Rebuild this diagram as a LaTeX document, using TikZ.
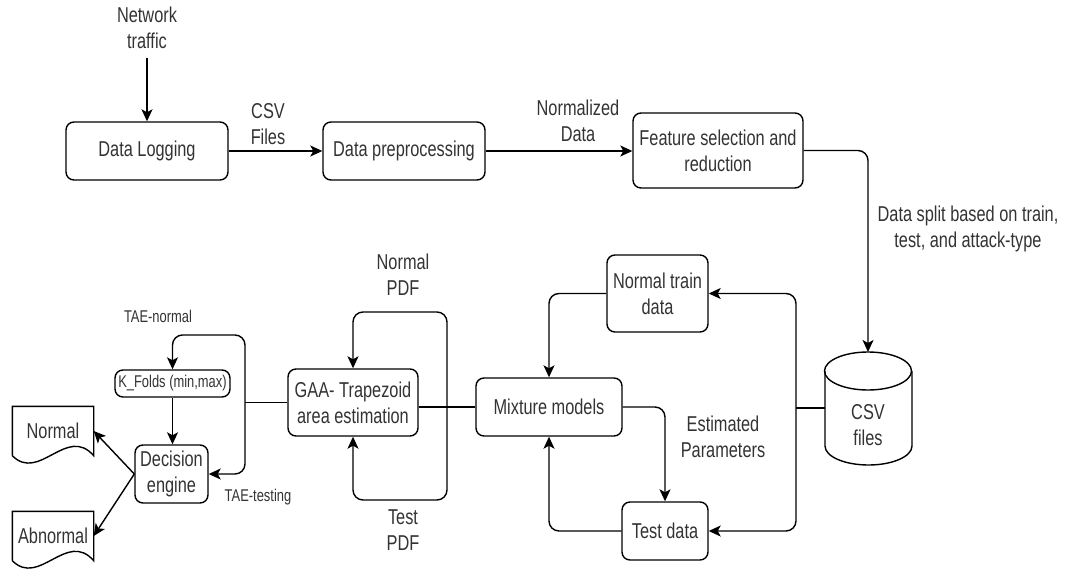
\documentclass[tikz,border=0pt]{standalone}
\usepackage{fontspec}
\setmainfont{Liberation Sans}[FakeStretch=0.76]
\usetikzlibrary{arrows.meta}

\begin{document}
\begin{tikzpicture}[x=1pt, y=-1pt, line width=1.4pt,
  box/.style={draw, rounded corners=8pt, align=center, inner sep=0pt, text=black!80, font=\fontsize{21.5}{26}\selectfont},
  lbl/.style={align=center, text=black!80, font=\fontsize{21.5}{26}\selectfont},
  small/.style={font=\fontsize{17}{20}\selectfont},
  doc/.style={lbl, minimum width=80pt, minimum height=48pt, inner sep=0pt},
  arr/.style={-{Stealth[length=12pt, width=11pt, inset=3pt]}},
  darr/.style={{Stealth[length=12pt, width=11pt, inset=3pt]}-{Stealth[length=12pt, width=11pt, inset=3pt]}}]

\useasboundingbox (0,0) rectangle (1075,575);

\node[box, minimum width=162pt, minimum height=58pt] (logging) at (147,151) {Data Logging};
\node[box, minimum width=162pt, minimum height=58pt] (prep) at (404,151) {Data preprocessing};
\node[box, minimum width=170pt, minimum height=75pt] (feat) at (718,150.5) {Feature selection and\\reduction};
\node[box, minimum width=101pt, minimum height=77pt] (ntrain) at (657.5,293.5) {Normal train\\data};
\node[box, minimum width=146pt, minimum height=58pt] (mix) at (549,407) {Mixture models};
\node[box, minimum width=86pt, minimum height=58pt] (test) at (665,531) {Test data};
\node[box, minimum width=130pt, minimum height=67pt] (gaa) at (353,402.5) {GAA- Trapezoid\\area estimation};
\node[box, small, minimum width=115pt, minimum height=27pt] (kfold) at (172.5,383.5) {K\_Folds (min,max)};
\node[box, minimum width=73pt, minimum height=58pt] (dec) at (171.5,474) {Decision\\engine};
\node[doc] (normal) at (53,431) {Normal};
\node[doc] (abnormal) at (53,536) {Abnormal};

\foreach \d in {normal, abnormal} {
 \draw (\d.south west) -- (\d.north west) -- (\d.north east) -- (\d.south east)
   .. controls +(-27,-31) and +(27,27) .. (\d.south west);
}

\node[lbl] (csv) at (868,425) {CSV\\files};
\draw (825,371) -- (825,446) arc[start angle=180, end angle=0, x radius=43.5, y radius=19] -- (912,371);
\draw (868,371) ellipse [x radius=43.5, y radius=19];
\coordinate (csvtop) at (868,352);
\coordinate (csvleft) at (825,408);
\coordinate (split) at (796,408);

\node[lbl, inner sep=8pt] (traffic) at (147,28) {Network\\traffic};
\node[lbl] (csvlbl) at (268,124.5) {CSV\\Files};
\node[lbl] (normlbl) at (578,121) {Normalized\\Data};
\node[lbl] (splitlbl) at (968,228.5) {Data split based on train,\\test, and attack-type};
\node[lbl] (estlbl) at (723,436.5) {Estimated\\Parameters};
\node[lbl] (npdf) at (403,275) {Normal\\PDF};
\node[lbl] (tpdf) at (403,530.5) {Test\\PDF};
\node[lbl, small] (taen) at (158,316) {TAE-normal};
\node[lbl, small] (taet) at (258,497) {TAE-testing};

\draw[arr] (traffic) -- (logging);
\draw[arr] (logging) -- (prep);
\draw[arr] (prep.east) -- (feat.west |- prep.east);
\draw[arr, rounded corners=10pt] (feat.east) -| (csvtop);
\draw (csvleft) -- (split);
\draw[darr, rounded corners=10pt] (ntrain.east) -| (split) |- (test.east);
\draw[arr, rounded corners=10pt] (ntrain.west) -| (mix.north);
\draw[arr, rounded corners=10pt] (mix.east) -| (test.north);
\draw[arr, rounded corners=10pt] (test.west) -| (mix.south);

\coordinate (pdfup) at (447,312);
\coordinate (pdfdown) at (447,500);
\draw (gaa.east |- mix.west) -- (mix.west);
\draw[darr, rounded corners=10pt] (gaa.north) |- (pdfup) -- (pdfdown) -| (gaa.south);

\coordinate (taeup) at (245,335);
\coordinate (taedown) at (245,474);
\draw (gaa.west) -- (gaa.west -| taeup);
\draw[darr, rounded corners=10pt] (kfold.north) |- (taeup) -- (taedown) -- (dec.east);
\draw[arr] (kfold.south) -- (kfold.south |- dec.north);
\draw[arr] (dec.west) -- (normal.east);
\draw[arr] (dec.west) -- (abnormal.east);
\end{tikzpicture}
\end{document}
